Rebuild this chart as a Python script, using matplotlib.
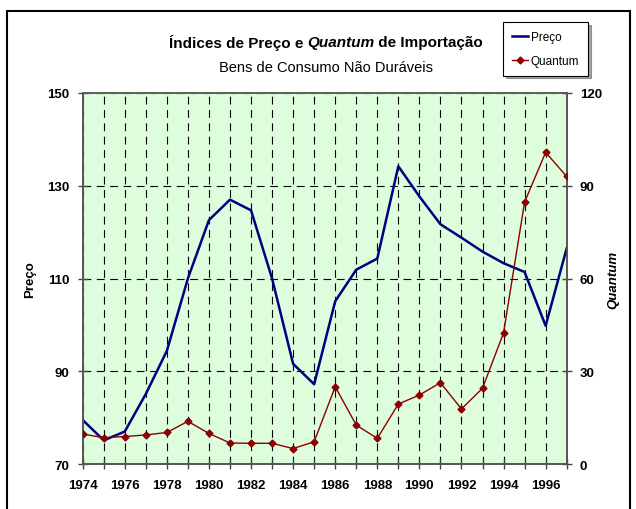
import matplotlib.pyplot as plt
from matplotlib.lines import Line2D
from matplotlib.patches import Rectangle

plt.rcParams['font.family'] = ['Liberation Sans', 'DejaVu Sans']

# dados
anos = list(range(1974, 1998))
preco = [79.5, 75.1, 77.0, 85.1, 94.4, 110.0, 122.6, 127.0, 124.7, 110.0,
         91.6, 87.2, 105.1, 111.9, 114.3, 134.2, 127.7, 121.7, 118.8, 115.8,
         113.3, 111.4, 99.8, 116.5]
quantum = [9.7, 8.5, 8.9, 9.4, 10.2, 13.8, 9.9, 6.8, 6.7, 6.7,
           5.0, 7.2, 25.0, 12.6, 8.3, 19.4, 22.3, 26.3, 17.8, 24.5,
           42.4, 84.7, 100.8, 93.0]

fig = plt.figure(figsize=(6.36, 5.10), dpi=100)
ax = fig.add_axes([0.130, 0.0882, 0.761, 0.7275])
ax.set_facecolor('#ddfddd')

ax.plot(anos, preco, color='#000080', lw=1.8, zorder=3)
ax.set_xlim(1974, 1997)
ax.set_ylim(70, 150)
ax.set_yticks([70, 90, 110, 130, 150])
ax.set_xticks(anos)
ax.set_xticklabels([str(a) if a % 2 == 0 else '' for a in anos])
ax.grid(True, color='black', linestyle=(0, (7, 5)), lw=0.8)
ax.set_axisbelow(True)
ax.tick_params(direction='inout', length=7, width=1, labelsize=9.5, color='#444444')
ax.tick_params(axis='x', pad=7)
ax.tick_params(axis='y', pad=6)
for lab in ax.get_xticklabels() + ax.get_yticklabels():
    lab.set_fontweight('bold')
ax.set_ylabel('Preço', fontsize=9.5, fontweight='bold', labelpad=8)

ax2 = ax.twinx()
ax2.plot(anos, quantum, color='#8b0000', lw=1, marker='D', ms=3.5, zorder=3)
ax2.set_ylim(0, 120)
ax2.set_yticks([0, 30, 60, 90, 120])
ax2.tick_params(direction='inout', length=7, width=1, labelsize=9.5, color='#444444', pad=6)
for lab in ax2.get_yticklabels():
    lab.set_fontweight('bold')
ax2.set_ylabel('Quantum', fontsize=9.5, fontweight='bold', style='italic', labelpad=4)

for a in (ax, ax2):
    for s in a.spines.values():
        s.set_color('#555555')
        s.set_linewidth(1.2)
ax.spines['top'].set_color('#999999')

# título
y_tit = 0.915
p1 = fig.text(0.265, y_tit, 'Índices de Preço e ', ha='left', va='center', fontsize=11, fontweight='bold')
fig.canvas.draw()
x1 = p1.get_window_extent().x1 / fig.bbox.width
p2 = fig.text(x1, y_tit, 'Quantum', ha='left', va='center', fontsize=11, fontweight='bold', style='italic')
x2 = p2.get_window_extent().x1 / fig.bbox.width
fig.text(x2, y_tit, ' de Importação', ha='left', va='center', fontsize=11, fontweight='bold')
fig.text(0.512, 0.867, 'Bens de Consumo Não Duráveis', ha='center', va='center', fontsize=10.5)

handles = [Line2D([], [], color='#000080', lw=1.8),
           Line2D([], [], color='#8b0000', lw=1, marker='D', ms=3.5)]
leg = fig.legend(handles, ['Preço', 'Quantum'], loc='upper left',
                 bbox_to_anchor=(503 / 636, 1 - 23 / 510), fontsize=8.5,
                 frameon=True, fancybox=False, shadow=True, handlelength=1.4,
                 handletextpad=0.2, borderpad=0.75, labelspacing=1.0,
                 borderaxespad=0)
leg.get_frame().set_edgecolor('black')
leg.get_frame().set_linewidth(0.8)

fig.patches.append(Rectangle((7 / 636, -0.1), 623 / 636, 1.1 - 12 / 510,
                             transform=fig.transFigure, fill=False,
                             edgecolor='black', lw=1.5))

fig.savefig('out.png', dpi=100)
